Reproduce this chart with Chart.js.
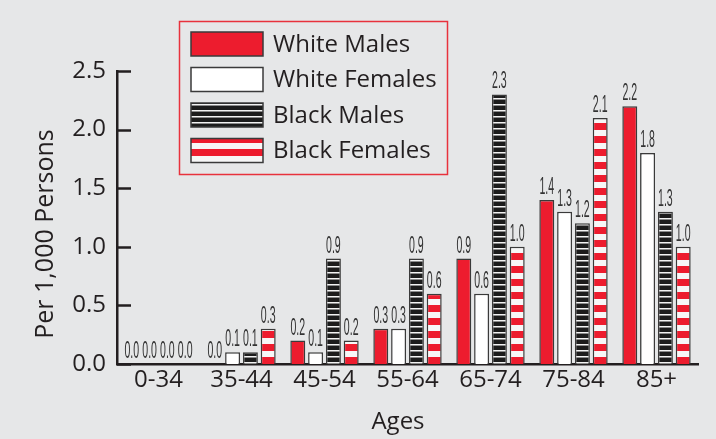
<!DOCTYPE html>
<html><head><meta charset="utf-8">
<script src="https://cdn.jsdelivr.net/npm/chart.js@4.4.1/dist/chart.umd.min.js"></script>
<style>
html,body{margin:0;padding:0;background:#e6e7e8;overflow:hidden;}
#wrap{width:716px;height:439px;position:relative;}
canvas{display:block;}
</style>
</head><body><div id="wrap"><canvas id="c" width="716" height="439"></canvas></div>
<script>
// ---- data ----
const categories = ['0-34', '35-44', '45-54', '55-64', '65-74', '75-84', '85+'];
const whiteMales   = [0.0, 0.0, 0.2, 0.3, 0.9, 1.4, 2.2];
const whiteFemales = [0.0, 0.1, 0.1, 0.3, 0.6, 1.3, 1.8];
const blackMales   = [0.0, 0.1, 0.9, 0.9, 2.3, 1.2, 1.3];
const blackFemales = [0.0, 0.3, 0.2, 0.6, 1.0, 2.1, 1.0];
const seriesNames  = ['White Males', 'White Females', 'Black Males', 'Black Females'];
const yTickLabels  = ['0.0', '0.5', '1.0', '1.5', '2.0', '2.5'];
const xTitle = 'Ages';
const yTitle = 'Per 1,000 Persons';

// ---- styles ----
const RED = '#ed1c2e';
const INK = '#231f20';
const EDGE = '#3a3a3a';
const FONT = '"Open Sans", sans-serif';

function stripePattern(w, h, bg, bands) {
  const c = document.createElement('canvas');
  c.width = w; c.height = h;
  const g = c.getContext('2d');
  g.fillStyle = bg; g.fillRect(0, 0, w, h);
  bands.forEach(b => { g.fillStyle = b[2]; g.fillRect(0, b[0], w, b[1]); });
  return g.createPattern(c, 'repeat');
}
const bmPattern = stripePattern(8, 6, '#1c1c1c', [[2, 1, '#f2f2f2'], [3, 1, '#8a8a8a']]);
const bfPattern = stripePattern(8, 13, RED, [[0, 6, '#f7f7f7']]);

const fills = [RED, '#ffffff', bmPattern, bfPattern];
const seriesData = [whiteMales, whiteFemales, blackMales, blackFemales];

const overlay = {
  id: 'overlay',
  afterDatasetsDraw(chart) {
    const ctx = chart.ctx;
    ctx.save();
    ctx.fillStyle = '#333';
    ctx.font = '24px "Liberation Sans", sans-serif';
    ctx.textAlign = 'center';
    ctx.textBaseline = 'alphabetic';
    chart.data.datasets.forEach((ds, di) => {
      const meta = chart.getDatasetMeta(di);
      meta.data.forEach((bar, i) => {
        const v = ds.data[i];
        ctx.save();
        ctx.translate(bar.x, bar.y - 6);
        ctx.scale(0.44, 1);
        ctx.fillText(v.toFixed(1), 0, 0);
        ctx.restore();
      });
    });
    ctx.restore();
  },
  afterDraw(chart) {
    const ctx = chart.ctx;
    const ys = chart.scales.y;
    ctx.save();
    // inward tick marks
    ctx.strokeStyle = INK; ctx.lineWidth = 2.5;
    ys.ticks.forEach(t => {
      const py = Math.round(ys.getPixelForValue(t.value)) + 0.5;
      ctx.beginPath(); ctx.moveTo(ys.right, py); ctx.lineTo(ys.right + 14, py); ctx.stroke();
    });
    // axis titles
    ctx.fillStyle = INK;
    ctx.font = '24px ' + FONT;
    ctx.textAlign = 'center'; ctx.textBaseline = 'alphabetic';
    ctx.fillText(xTitle, 398, 429);
    ctx.save();
    ctx.translate(53, 234); ctx.rotate(-Math.PI / 2);
    ctx.font = '25px ' + FONT;
    ctx.fillText(yTitle, 0, 0);
    ctx.restore();
    // legend
    ctx.strokeStyle = '#e8323c'; ctx.lineWidth = 1.5;
    ctx.strokeRect(179.5, 21.5, 268, 153);
    const rowsY = [32, 67.5, 103, 138.5];
    ctx.font = '24px ' + FONT;
    ctx.textAlign = 'left'; ctx.textBaseline = 'middle';
    chart.data.datasets.forEach((ds, i) => {
      const y = rowsY[i];
      ctx.fillStyle = ds.backgroundColor;
      ctx.fillRect(191, y, 72, 24);
      ctx.strokeStyle = EDGE; ctx.lineWidth = 1.5;
      ctx.strokeRect(191, y, 72, 24);
      ctx.fillStyle = INK;
      ctx.fillText(ds.label, 273, y + 13);
    });
    ctx.restore();
  }
};

new Chart(document.getElementById('c'), {
  type: 'bar',
  data: {
    labels: categories,
    datasets: seriesNames.map((n, i) => ({
      label: n,
      data: seriesData[i],
      backgroundColor: fills[i],
      borderColor: EDGE,
      borderWidth: 1.5,
      borderSkipped: 'bottom',
      barPercentage: 0.84,
      categoryPercentage: 0.858
    }))
  },
  options: {
    responsive: false,
    animation: false,
    devicePixelRatio: 1,
    layout: { padding: { top: 71, right: 18, left: 0, bottom: 0 } },
    plugins: { legend: { display: false }, tooltip: { enabled: false } },
    scales: {
      x: {
        grid: { display: false, drawTicks: false },
        border: { display: true, color: INK, width: 2.5 },
        ticks: { color: INK, font: { family: FONT, size: 24 }, padding: 2 },
        afterFit(s) { s.height = 75; }
      },
      y: {
        min: 0, max: 2.5,
        grid: { display: false, drawTicks: false },
        border: { display: true, color: INK, width: 2.5 },
        ticks: {
          stepSize: 0.5, color: INK, padding: 11,
          font: { family: FONT, size: 24 },
          callback: (v, i) => yTickLabels[i]
        },
        afterFit(s) { s.width = 117; }
      }
    }
  },
  plugins: [overlay]
});
</script>
</body></html>
